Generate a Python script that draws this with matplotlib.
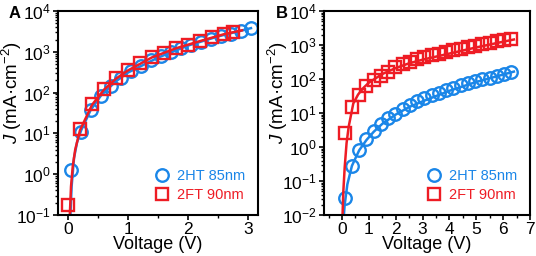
import math
import matplotlib
matplotlib.use('Agg')
import matplotlib.pyplot as plt
from matplotlib.ticker import LogLocator, FuncFormatter, MultipleLocator, NullFormatter

plt.rcParams['font.family'] = ['Liberation Sans', 'DejaVu Sans']
plt.rcParams['mathtext.fontset'] = 'custom'
plt.rcParams['mathtext.rm'] = 'Liberation Sans'
plt.rcParams['mathtext.it'] = 'Liberation Sans:italic'

BLUE = '#1a86e8'
RED = '#ee1c24'

# panel A data
a_ht_v = [0.05, 0.22, 0.38, 0.55, 0.72, 0.88, 1.05, 1.22, 1.38, 1.55, 1.72, 1.88, 2.05, 2.22, 2.38, 2.55, 2.72, 2.88, 3.05]
a_ht_j = [1.3, 11, 37, 83, 145, 230, 330, 460, 620, 800, 1000, 1230, 1480, 1750, 2050, 2380, 2750, 3150, 3800]
a_ft_v = [0.0, 0.2, 0.4, 0.6, 0.8, 1.0, 1.2, 1.4, 1.6, 1.8, 2.0, 2.2, 2.4, 2.6, 2.75]
a_ft_j = [0.18, 13, 52, 120, 225, 355, 520, 740, 960, 1230, 1470, 1830, 2280, 2750, 3100]
a_ht_fit_v = [0.04, 0.06, 0.1, 0.15, 0.22, 0.38, 0.55, 0.8, 1.0, 1.5, 2.0, 2.5, 3.05]
a_ht_fit_j = [0.1, 0.5, 2.5, 6.0, 12, 38, 85, 190, 310, 720, 1420, 2380, 3800]
a_ft_fit_v = [0.03, 0.05, 0.08, 0.12, 0.2, 0.4, 0.6, 0.8, 1.0, 1.4, 1.8, 2.2, 2.6, 2.9]
a_ft_fit_j = [0.1, 0.5, 1.6, 4.0, 12, 50, 118, 220, 350, 730, 1220, 1830, 2700, 3350]

# panel B data
b_ht_v = [0.1, 0.37, 0.64, 0.91, 1.18, 1.45, 1.72, 1.99, 2.26, 2.53, 2.8, 3.07, 3.34, 3.61, 3.88, 4.15,
          4.42, 4.69, 4.96, 5.23, 5.5, 5.77, 6.04, 6.31]
b_ht_j = [0.032, 0.27, 0.8, 1.7, 3.0, 4.8, 7.0, 9.5, 13, 17, 22, 27, 33, 40, 48, 56,
          65, 75, 86, 98, 110, 125, 140, 160]
b_ft_v = b_ht_v
b_ft_j = [2.6, 15.5, 35, 62, 93, 123, 162, 218, 270, 325, 390, 440, 500, 560, 630, 700,
          780, 860, 950, 1050, 1180, 1320, 1450, 1550]
b_ht_fit_v = [0.07, 0.1, 0.2, 0.37, 0.64, 0.91, 1.18, 1.5, 2.0, 2.5, 3.0, 4.0, 5.0, 6.0, 6.4]
b_ht_fit_j = [0.01, 0.02, 0.08, 0.28, 0.8, 1.6, 2.8, 4.8, 9.0, 15, 22, 45, 82, 135, 165]
b_ft_fit_v = [0.02, 0.05, 0.1, 0.17, 0.25, 0.42, 0.6, 0.8, 1.0, 1.5, 2.0, 2.5, 3.0, 4.0, 5.0, 6.0, 6.4]
b_ft_fit_j = [0.01, 0.05, 0.25, 1.3, 4.0, 19, 35, 55, 78, 140, 210, 290, 370, 560, 850, 1250, 1450]

fig = plt.figure(figsize=(5.36, 2.56), dpi=100)
axA = fig.add_axes([58 / 536, 41 / 256, 200 / 536, 204 / 256])
axB = fig.add_axes([324 / 536, 41 / 256, 206 / 536, 204 / 256])


def logfmt(y, pos):
    e = int(round(math.log10(y)))
    return r'$\mathregular{10^{%d}}$' % e


def style(ax, xlim, ylim, label_x):
    ax.set_yscale('log')
    ax.set_xlim(*xlim)
    ax.set_ylim(*ylim)
    ax.xaxis.set_major_locator(MultipleLocator(1))
    ax.xaxis.set_minor_locator(MultipleLocator(0.5))
    ax.yaxis.set_major_locator(LogLocator(base=10, numticks=20))
    ax.yaxis.set_minor_locator(LogLocator(base=10, subs=range(2, 10), numticks=20))
    ax.yaxis.set_major_formatter(FuncFormatter(logfmt))
    ax.yaxis.set_minor_formatter(NullFormatter())
    ax.tick_params(which='major', direction='out', length=3.5, width=1.2, labelsize=12.5, pad=1.5)
    ax.tick_params(which='minor', direction='out', length=2, width=1)
    for s in ax.spines.values():
        s.set_linewidth(1.5)
    ax.set_xlabel('Voltage (V)', fontsize=13, labelpad=-1)
    ax.set_ylabel(r'$\mathit{J}$ (mA·cm$^{\mathregular{-2}}$)', fontsize=13.5)
    ax.yaxis.set_label_coords(label_x, 0.6)


ms = 9
mew = 1.7

axA.plot(a_ht_fit_v, a_ht_fit_j, color=BLUE, lw=1.8)
axA.plot(a_ht_v, a_ht_j, 'o', mfc='none', mec=BLUE, ms=ms, mew=mew, label='2HT 85nm')
axA.plot(a_ft_fit_v, a_ft_fit_j, color=RED, lw=1.8)
axA.plot(a_ft_v, a_ft_j, 's', mfc='none', mec=RED, ms=ms - 0.7, mew=mew, label='2FT 90nm')
style(axA, (-0.167, 3.167), (0.1, 1e4), -0.17)

axB.plot(b_ht_fit_v, b_ht_fit_j, color=BLUE, lw=1.8)
axB.plot(b_ht_v, b_ht_j, 'o', mfc='none', mec=BLUE, ms=ms, mew=mew, label='2HT 85nm')
axB.plot(b_ft_fit_v, b_ft_fit_j, color=RED, lw=1.8)
axB.plot(b_ft_v, b_ft_j, 's', mfc='none', mec=RED, ms=ms - 0.7, mew=mew, label='2FT 90nm')
style(axB, (-0.67, 7), (0.01, 1e4), -0.165)

for ax in (axA, axB):
    handles, labels = ax.get_legend_handles_labels()
    leg = ax.legend(handles, labels, loc='lower right', frameon=False, fontsize=10.5,
                    handletextpad=0.4, borderaxespad=0.5, labelspacing=0.35, handlelength=1.2)
    for txt, c in zip(leg.get_texts(), (BLUE, RED)):
        txt.set_color(c)

fig.text(9 / 536, 1 - 13 / 256, 'A', fontsize=12, fontweight='bold', va='center', ha='left')
fig.text(276 / 536, 1 - 13 / 256, 'B', fontsize=12, fontweight='bold', va='center', ha='left')

fig.savefig('out.png', dpi=100)
